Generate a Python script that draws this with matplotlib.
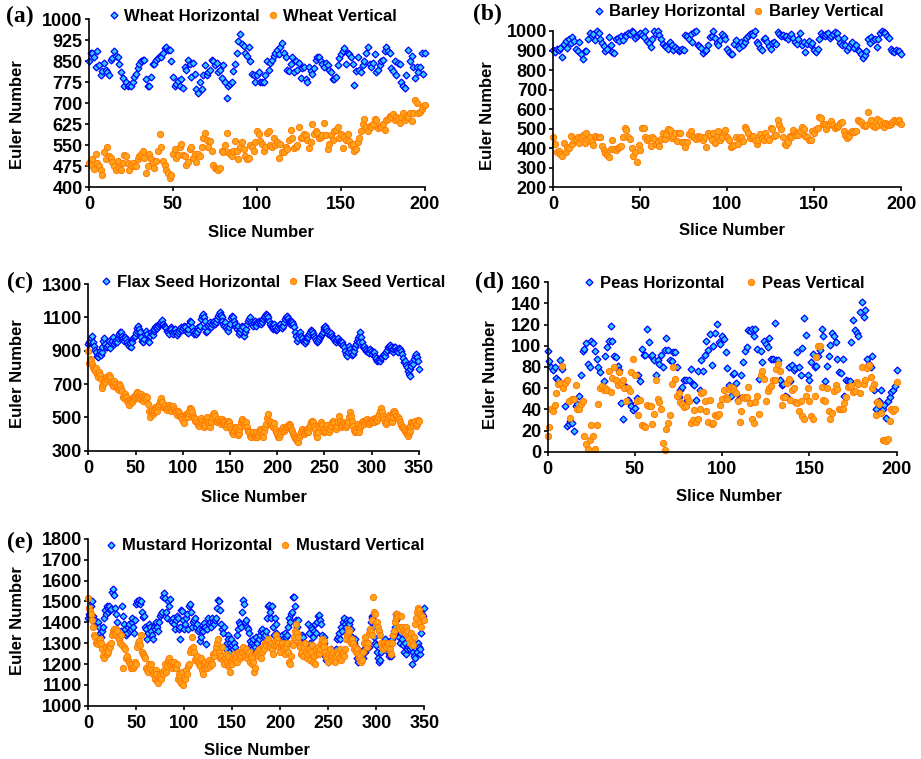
import numpy as np
import matplotlib
matplotlib.use('Agg')
import matplotlib.pyplot as plt

plt.rcParams['font.family'] = ['Liberation Sans', 'DejaVu Sans']
plt.rcParams['font.weight'] = 'bold'

# ---- data (one value per slice) ----
wheat_h = [
    850, 880, 878, 865, 830, 885, 835, 800, 815, 845,
    820, 810, 800, 855, 860, 885, 870, 865, 840, 810,
    790, 760, 775, 760, 765, 760, 775, 795, 805, 825,
    840, 850, 855, 855, 785, 760, 760, 795, 840, 840,
    855, 860, 870, 865, 880, 895, 900, 890, 890, 850,
    795, 760, 770, 780, 760, 785, 755, 830, 820, 855,
    840, 795, 845, 805, 750, 735, 775, 750, 800, 835,
    800, 810, 820, 855, 850, 835, 845, 810, 820, 790,
    835, 775, 720, 760, 770, 775, 815, 840, 880, 920,
    945, 910, 905, 880, 870, 900, 850, 805, 800, 775,
    800, 810, 775, 775, 775, 800, 850, 820, 845, 855,
    870, 880, 890, 875, 900, 915, 880, 865, 820, 815,
    840, 865, 810, 850, 820, 845, 790, 825, 830, 785,
    775, 830, 815, 805, 825, 855, 865, 865, 850, 840,
    830, 845, 835, 820, 810, 785, 785, 795, 835, 860,
    875, 885, 895, 840, 880, 875, 865, 840, 765, 815,
    865, 820, 810, 835, 850, 880, 900, 840, 830, 845,
    875, 810, 820, 835, 850, 855, 885, 900, 885, 880,
    825, 815, 850, 800, 845, 840, 775, 760, 755, 800,
    890, 850, 870, 830, 790, 830, 810, 830, 880, 805,
    880]
wheat_v = [
    485, 480, 500, 465, 520, 485, 475, 460, 445, 525,
    500, 545, 510, 505, 490, 475, 460, 495, 470, 460,
    485, 515, 510, 485, 460, 480, 485, 475, 475, 500,
    510, 520, 530, 505, 450, 475, 520, 500, 490, 470,
    495, 530, 590, 545, 495, 480, 460, 450, 435, 445,
    520, 535, 505, 515, 545, 555, 515, 510, 480, 490,
    535, 545, 505, 520, 490, 520, 510, 545, 575, 595,
    570, 545, 565, 530, 480, 470, 465, 460, 470, 530,
    525, 550, 595, 525, 520, 510, 530, 565, 530, 500,
    545, 560, 535, 510, 500, 505, 550, 545, 530, 560,
    600, 590, 565, 555, 530, 545, 595, 600, 550, 545,
    575, 550, 560, 505, 555, 525, 525, 545, 535, 570,
    605, 575, 540, 545, 550, 615, 575, 580, 590, 585,
    570, 540, 560, 625, 590, 600, 595, 575, 580, 585,
    630, 585, 535, 555, 585, 570, 600, 605, 615, 575,
    590, 540, 580, 570, 590, 565, 550, 555, 530, 535,
    560, 575, 600, 625, 645, 615, 600, 620, 615, 625,
    645, 640, 610, 620, 615, 625, 605, 640, 645, 655,
    650, 660, 640, 650, 645, 630, 650, 665, 640, 655,
    650, 665, 635, 665, 710, 700, 665, 670, 680, 690,
    695]

barley_h = [
    905, 890, 910, 905, 915, 865, 935, 950, 915, 960,
    940, 970, 950, 910, 900, 945, 880, 855, 895, 900,
    960, 990, 975, 985, 955, 1000, 990, 960, 940, 925,
    900, 910, 970, 930, 890, 885, 960, 965, 950, 975,
    955, 980, 975, 990, 985, 1000, 995, 965, 975, 985,
    990, 980, 970, 1000, 950, 940, 920, 960, 1000, 985,
    1000, 980, 960, 935, 925, 920, 910, 945, 930, 905,
    920, 910, 895, 905, 910, 905, 980, 975, 960, 985,
    945, 995, 1000, 930, 925, 915, 885, 900, 905, 930,
    970, 975, 1000, 965, 940, 930, 955, 985, 975, 960,
    910, 890, 880, 880, 935, 955, 925, 915, 945, 930,
    945, 965, 975, 985, 990, 980, 1000, 945, 935, 915,
    905, 960, 965, 945, 925, 910, 940, 945, 935, 995,
    985, 975, 980, 970, 975, 960, 975, 985, 965, 945,
    935, 960, 990, 930, 945, 890, 935, 950, 930, 940,
    905, 890, 910, 960, 990, 980, 975, 985, 990, 965,
    975, 985, 995, 990, 965, 940, 930, 965, 930, 905,
    920, 935, 945, 915, 930, 905, 895, 880, 860, 875,
    895, 960, 940, 970, 955, 960, 920, 960, 990, 1000,
    995, 990, 975, 965, 910, 900, 890, 905, 895, 900,
    880]
barley_v = [
    455, 420, 380, 385, 370, 360, 425, 380, 405, 400,
    465, 420, 440, 445, 455, 425, 460, 470, 425, 480,
    445, 460, 430, 415, 465, 460, 455, 460, 410, 390,
    375, 365, 355, 395, 440, 395, 390, 400, 405, 410,
    455, 505, 495, 455, 445, 400, 360, 380, 330, 415,
    390, 505, 505, 460, 440, 450, 410, 460, 445, 420,
    430, 410, 445, 480, 445, 475, 500, 495, 450, 465,
    480, 435, 480, 480, 430, 430, 405, 430, 475, 490,
    465, 455, 445, 465, 450, 460, 440, 455, 405, 480,
    470, 440, 480, 425, 465, 490, 440, 460, 485, 495,
    460, 440, 405, 410, 415, 455, 420, 450, 460, 435,
    510, 500, 480, 450, 460, 465, 440, 420, 440, 475,
    450, 440, 480, 460, 440, 505, 500, 465, 470, 545,
    520, 500, 460, 420, 415, 430, 465, 455, 495, 470,
    480, 470, 490, 510, 500, 465, 455, 440, 440, 490,
    480, 500, 505, 560, 555, 525, 525, 500, 520, 525,
    540, 520, 505, 510, 515, 530, 535, 490, 470, 450,
    465, 485, 490, 485, 490, 545, 540, 535, 520, 515,
    520, 585, 530, 545, 515, 510, 550, 520, 540, 520,
    510, 530, 525, 520, 525, 535, 545, 540, 535, 545,
    525]

flax_h = [
    940, 955, 960, 975, 990, 950, 930, 905, 890, 870,
    860, 880, 900, 875, 895, 920, 960, 975, 940, 925,
    920, 935, 960, 915, 945, 960, 980, 940, 955, 965,
    950, 975, 990, 1000, 1010, 1015, 990, 975, 960, 985,
    970, 955, 940, 930, 945, 920, 955, 975, 985, 990,
    1005, 1020, 1035, 1050, 1030, 1010, 985, 960, 950, 970,
    1000, 1020, 1000, 960, 950, 990, 1010, 1000, 995, 1020,
    1030, 1040, 1050, 1035, 1050, 1060, 1065, 1075, 1085, 1060,
    1050, 1040, 1035, 1020, 1010, 1000, 1025, 1040, 1030, 1010,
    1000, 1015, 1030, 1010, 995, 1005, 1020, 1030, 1040, 1025,
    1035, 1050, 1040, 1020, 1010, 1005, 1030, 1060, 1080, 1070,
    1040, 1020, 1000, 1010, 1000, 1015, 1040, 1030, 1050, 1090,
    1110, 1120, 1105, 1080, 1040, 1010, 1020, 1050, 1060, 1070,
    1045, 1060, 1075, 1080, 1060, 1070, 1090, 1110, 1120, 1130,
    1115, 1100, 1080, 1060, 1050, 1070, 1045, 1030, 1020, 1040,
    1060, 1095, 1110, 1100, 1080, 1060, 1045, 1030, 1050, 1020,
    1000, 1010, 1030, 1050, 1040, 990, 1010, 1030, 1060, 1080,
    1090, 1100, 1070, 1060, 1050, 1065, 1080, 1060, 1050, 1070,
    1065, 1080, 1070, 1060, 1075, 1090, 1100, 1110, 1120, 1115,
    1100, 1080, 1060, 1050, 1040, 1030, 1045, 1060, 1040, 1025,
    1030, 1040, 1055, 1060, 1045, 1035, 1050, 1070, 1090, 1100,
    1110, 1095, 1080, 1060, 1070, 1080, 1075, 1060, 1040, 1010,
    990, 960, 975, 1000, 1010, 990, 975, 960, 950, 945,
    960, 975, 990, 980, 1000, 1015, 1025, 1020, 1005, 990,
    975, 965, 950, 960, 970, 985, 995, 1000, 1010, 1030,
    1040, 1050, 1035, 1020, 1000, 1010, 995, 1005, 990, 975,
    970, 960, 950, 965, 975, 960, 955, 945, 940, 950,
    935, 920, 900, 880, 870, 890, 930, 910, 890, 875,
    880, 900, 920, 940, 960, 975, 950, 990, 1010, 980,
    950, 920, 930, 910, 900, 905, 895, 885, 910, 900,
    880, 895, 890, 870, 850, 855, 840, 845, 850, 840,
    855, 865, 875, 880, 870, 890, 905, 925, 930, 935,
    920, 905, 890, 910, 925, 920, 905, 900, 895, 915,
    910, 900, 880, 855, 830, 840, 815, 800, 780, 760,
    750, 790, 810, 830, 820, 850, 870, 880, 860, 840,
    790]
flax_v = [
    900, 825, 850, 845, 820, 800, 790, 780, 795, 760,
    740, 770, 755, 730, 690, 675, 700, 720, 710, 740,
    730, 745, 755, 740, 710, 700, 690, 720, 700, 680,
    690, 670, 665, 700, 690, 670, 660, 625, 615, 640,
    620, 600, 590, 575, 600, 605, 590, 620, 610, 625,
    640, 655, 645, 620, 630, 610, 640, 625, 600, 615,
    630, 610, 620, 580, 540, 500, 535, 545, 520, 530,
    545, 560, 550, 540, 570, 580, 600, 615, 590, 565,
    560, 575, 550, 545, 565, 575, 560, 545, 540, 560,
    570, 550, 540, 530, 515, 540, 525, 510, 500, 490,
    480, 465, 500, 520, 515, 500, 525, 540, 555, 550,
    530, 510, 495, 480, 490, 470, 455, 450, 470, 495,
    480, 460, 445, 470, 455, 480, 500, 470, 460, 440,
    470, 500, 520, 525, 510, 480, 470, 490, 480, 470,
    460, 475, 490, 480, 470, 455, 440, 460, 480, 470,
    450, 430, 410, 400, 420, 440, 435, 410, 395, 405,
    430, 450, 470, 490, 480, 460, 450, 470, 440, 420,
    410, 390, 380, 400, 415, 390, 380, 395, 410, 385,
    395, 410, 430, 420, 400, 385, 420, 440, 460, 495,
    520, 480, 460, 470, 455, 440, 450, 465, 430, 410,
    400, 385, 380, 400, 420, 430, 440, 420, 430, 445,
    450, 440, 460, 455, 445, 430, 420, 400, 390, 375,
    370, 360, 355, 380, 395, 410, 430, 420, 400, 415,
    425, 430, 410, 415, 440, 455, 470, 480, 475, 450,
    430, 400, 385, 410, 440, 460, 470, 455, 430, 415,
    410, 420, 440, 455, 430, 415, 430, 450, 470, 480,
    465, 445, 430, 450, 470, 510, 480, 460, 440, 455,
    470, 460, 450, 440, 455, 470, 500, 530, 510, 480,
    450, 425, 410, 420, 440, 460, 430, 415, 440, 455,
    470, 480, 460, 470, 485, 490, 475, 460, 470, 485,
    480, 490, 470, 495, 480, 490, 485, 500, 520, 540,
    555, 530, 510, 490, 470, 460, 475, 495, 515, 500,
    480, 470, 500, 530, 540, 525, 510, 495, 505, 490,
    470, 455, 440, 445, 430, 420, 410, 400, 390, 405,
    420, 450, 470, 465, 455, 475, 480, 450, 460, 485,
    480]

peas_h = [
    95, 86, 80, 77, 80, 70, 68, 87, 78, 64,
    43, 24, 26, 29, 27, 20, 43, 45, 53, 72,
    95, 97, 103, 83, 80, 105, 103, 95, 88, 80,
    75, 61, 67, 90, 99, 105, 119, 105, 90, 89,
    81, 77, 46, 31, 62, 61, 49, 46, 43, 39,
    41, 51, 72, 67, 97, 91, 91, 116, 104, 90,
    91, 87, 72, 87, 83, 91, 80, 96, 107, 96,
    87, 86, 94, 94, 80, 52, 58, 61, 68, 68,
    49, 68, 78, 64, 63, 49, 76, 58, 87, 76,
    91, 105, 96, 111, 82, 100, 112, 121, 104, 102,
    109, 106, 94, 79, 63, 53, 73, 74, 65, 49,
    51, 72, 85, 95, 99, 115, 114, 116, 109, 116,
    97, 69, 95, 85, 105, 102, 99, 107, 88, 88,
    122, 87, 87, 68, 63, 64, 53, 52, 80, 67,
    82, 77, 79, 94, 80, 72, 98, 126, 110, 72,
    68, 85, 92, 80, 81, 90, 96, 116, 109, 67,
    81, 90, 101, 112, 109, 104, 88, 75, 74, 88,
    53, 68, 67, 67, 104, 124, 115, 112, 109, 132,
    141, 127, 134, 88, 83, 80, 90, 58, 40, 47,
    48, 58, 40, 44, 32, 48, 52, 56, 58, 62,
    77]
peas_v = [
    15, 23, 40, 38, 44, 55, 64, 65, 81, 60,
    65, 68, 48, 32, 50, 50, 63, 40, 40, 45,
    48, 15, 7, 3, 11, 25, 15, 3, 25, 45,
    60, 62, 58, 60, 58, 76, 56, 70, 80, 68,
    63, 75, 65, 68, 60, 48, 60, 57, 75, 88,
    72, 48, 35, 49, 25, 24, 23, 44, 43, 43,
    26, 36, 68, 50, 47, 40, 8, 2, 21, 27,
    35, 64, 80, 69, 53, 55, 47, 45, 42, 43,
    52, 48, 27, 30, 39, 28, 31, 40, 55, 56,
    48, 38, 28, 49, 26, 27, 35, 34, 36, 44,
    50, 58, 52, 50, 59, 61, 60, 57, 55, 48,
    28, 38, 52, 51, 52, 61, 46, 31, 27, 47,
    53, 36, 72, 76, 69, 48, 57, 60, 62, 68,
    68, 78, 83, 76, 44, 52, 52, 65, 69, 49,
    58, 60, 47, 46, 38, 48, 34, 31, 53, 60,
    48, 34, 31, 53, 89, 100, 100, 61, 49, 48,
    60, 38, 31, 37, 57, 63, 59, 40, 40, 40,
    46, 52, 61, 62, 62, 56, 57, 66, 64, 55,
    80, 64, 68, 79, 82, 71, 60, 64, 35, 47,
    45, 37, 11, 11, 10, 12, 29, 40, 38, 40,
    66]

mustard_h = [
    1420, 1440, 1505, 1480, 1500, 1430, 1410, 1400, 1405, 1395,
    1400, 1380, 1350, 1330, 1360, 1380, 1420, 1460, 1440, 1480,
    1450, 1470, 1480, 1460, 1465, 1545, 1560, 1530, 1470, 1440,
    1400, 1360, 1330, 1345, 1360, 1480, 1430, 1390, 1370, 1340,
    1350, 1380, 1390, 1360, 1370, 1400, 1420, 1380, 1350, 1410,
    1490, 1500, 1495, 1505, 1490, 1500, 1450, 1425, 1430, 1380,
    1370, 1320, 1350, 1390, 1380, 1360, 1340, 1320, 1380, 1370,
    1390, 1400, 1380, 1360, 1400, 1430, 1440, 1450, 1520, 1540,
    1515, 1450, 1420, 1500, 1480, 1510, 1410, 1400, 1420, 1390,
    1370, 1410, 1430, 1420, 1370, 1320, 1380, 1460, 1455, 1410,
    1370, 1390, 1420, 1440, 1370, 1480, 1490, 1450, 1380, 1400,
    1410, 1420, 1380, 1390, 1360, 1370, 1310, 1330, 1370, 1360,
    1380, 1395, 1380, 1295, 1370, 1420, 1390, 1400, 1380, 1420,
    1400, 1390, 1410, 1420, 1470, 1505, 1500, 1460, 1390, 1370,
    1350, 1380, 1280, 1270, 1300, 1340, 1320, 1260, 1300, 1320,
    1290, 1270, 1300, 1280, 1260, 1340, 1370, 1400, 1390, 1380,
    1450, 1505, 1490, 1400, 1410, 1380, 1370, 1350, 1310, 1290,
    1300, 1270, 1320, 1290, 1280, 1330, 1300, 1270, 1320, 1340,
    1360, 1370, 1350, 1330, 1340, 1360, 1420, 1480, 1485, 1450,
    1420, 1480, 1380, 1340, 1420, 1390, 1350, 1330, 1320, 1300,
    1310, 1330, 1340, 1320, 1310, 1350, 1330, 1340, 1380, 1420,
    1400, 1440, 1450, 1520, 1520, 1480, 1410, 1380, 1410, 1340,
    1320, 1300, 1290, 1340, 1330, 1300, 1260, 1290, 1250, 1390,
    1350, 1300, 1380, 1370, 1330, 1360, 1390, 1350, 1400, 1430,
    1435, 1410, 1390, 1340, 1310, 1300, 1330, 1240, 1220, 1250,
    1210, 1230, 1260, 1270, 1250, 1220, 1240, 1260, 1270, 1320,
    1330, 1350, 1320, 1380, 1360, 1400, 1420, 1390, 1380, 1410,
    1370, 1400, 1390, 1410, 1370, 1330, 1310, 1300, 1320, 1280,
    1230, 1210, 1240, 1250, 1220, 1250, 1230, 1270, 1260, 1290,
    1280, 1300, 1280, 1370, 1400, 1430, 1420, 1380, 1330, 1300,
    1290, 1260, 1230, 1210, 1220, 1260, 1280, 1300, 1310, 1320,
    1290, 1300, 1260, 1240, 1250, 1240, 1320, 1340, 1360, 1380,
    1410, 1440, 1430, 1360, 1330, 1300, 1350, 1320, 1290, 1260,
    1300, 1250, 1270, 1280, 1290, 1270, 1280, 1200, 1260, 1240,
    1230, 1270, 1260, 1300, 1280, 1250, 1270, 1350, 1440, 1430,
    1470]
mustard_v = [
    1515, 1470, 1455, 1440, 1410, 1380, 1340, 1330, 1300, 1310,
    1295, 1310, 1320, 1300, 1270, 1240, 1230, 1260, 1280, 1250,
    1270, 1260, 1290, 1280, 1300, 1340, 1360, 1370, 1350, 1370,
    1360, 1330, 1320, 1300, 1340, 1290, 1180, 1280, 1270, 1230,
    1240, 1220, 1210, 1200, 1180, 1190, 1200, 1180, 1190, 1210,
    1200, 1280, 1300, 1310, 1290, 1340, 1260, 1250, 1240, 1230,
    1180, 1170, 1160, 1200, 1180, 1200, 1170, 1150, 1160, 1130,
    1170, 1150, 1120, 1110, 1140, 1150, 1130, 1160, 1150, 1170,
    1200, 1160, 1190, 1220, 1230, 1200, 1210, 1180, 1200, 1210,
    1190, 1180, 1200, 1130, 1150, 1140, 1120, 1110, 1160, 1100,
    1140, 1130, 1170, 1150, 1190, 1200, 1260, 1270, 1330, 1280,
    1260, 1220, 1230, 1240, 1210, 1200, 1190, 1230, 1170, 1150,
    1180, 1200, 1210, 1190, 1180, 1200, 1220, 1190, 1210, 1200,
    1250, 1240, 1260, 1280, 1300, 1320, 1260, 1230, 1240, 1280,
    1220, 1200, 1230, 1250, 1210, 1190, 1240, 1200, 1160, 1210,
    1200, 1230, 1250, 1220, 1240, 1210, 1260, 1250, 1230, 1240,
    1260, 1280, 1250, 1240, 1270, 1230, 1250, 1260, 1210, 1240,
    1200, 1230, 1210, 1160, 1180, 1250, 1260, 1240, 1270, 1250,
    1230, 1260, 1280, 1270, 1300, 1290, 1310, 1320, 1290, 1280,
    1300, 1270, 1250, 1290, 1310, 1290, 1340, 1320, 1300, 1280,
    1260, 1290, 1300, 1280, 1270, 1250, 1280, 1300, 1260, 1210,
    1200, 1240, 1300, 1290, 1330, 1360, 1390, 1350, 1330, 1300,
    1290, 1280, 1250, 1260, 1240, 1280, 1300, 1260, 1230, 1250,
    1270, 1220, 1260, 1290, 1210, 1240, 1200, 1270, 1250, 1280,
    1250, 1270, 1300, 1320, 1290, 1310, 1280, 1260, 1240, 1230,
    1210, 1250, 1270, 1240, 1220, 1260, 1230, 1210, 1240, 1260,
    1250, 1230, 1270, 1220, 1250, 1260, 1240, 1270, 1320, 1340,
    1370, 1350, 1360, 1310, 1300, 1320, 1300, 1270, 1280, 1260,
    1270, 1250, 1230, 1240, 1210, 1220, 1260, 1300, 1330, 1300,
    1280, 1300, 1350, 1370, 1360, 1340, 1410, 1520, 1450, 1440,
    1390, 1400, 1380, 1360, 1340, 1300, 1280, 1270, 1300, 1290,
    1280, 1300, 1290, 1300, 1270, 1250, 1300, 1340, 1360, 1400,
    1420, 1440, 1440, 1430, 1380, 1370, 1430, 1380, 1360, 1370,
    1350, 1380, 1360, 1330, 1320, 1300, 1350, 1310, 1290, 1330,
    1390, 1420, 1450, 1470, 1460, 1440, 1400, 1380, 1430, 1410,
    1410]

H_FACE, H_EDGE = '#33CCFF', '#0000FF'
V_FACE, V_EDGE = '#FFA31A', '#FF7A00'

# panel: (letter, name, h, v, xmax, yticks, axes rect, legend anchor, colspacing,
#         ylabel coords, xlabel coords, letter pos in px)
panels = [
    ('(a)', 'Wheat', wheat_h, wheat_v, 200, np.arange(400, 1001, 75),
     [0.0966, 0.7532, 0.3648, 0.2217], (0.488, 1.018), 0.45,
     (-0.214, 0.435), (0.512, -0.266), (20, 16)),
    ('(b)', 'Barley', barley_h, barley_v, 200, np.arange(200, 1001, 100),
     [0.6008, 0.7532, 0.3775, 0.2060], (0.533, 1.122), 0.45,
     (-0.19, 0.457), (0.515, -0.274), (487, 14)),
    ('(c)', 'Flax Seed', flax_h, flax_v, 350, np.arange(300, 1301, 200),
     [0.0959, 0.4062, 0.3590, 0.2196], (0.559, 1.012), 0.45,
     (-0.215, 0.46), (0.50, -0.278), (20, 282)),
    ('(d)', 'Peas', peas_h, peas_v, 200, np.arange(0, 161, 20),
     [0.5947, 0.4049, 0.3789, 0.2232], (0.506, 0.995), 1.3,
     (-0.165, 0.453), (0.52, -0.267), (489, 282)),
    ('(e)', 'Mustard', mustard_h, mustard_v, 350, np.arange(1000, 1801, 100),
     [0.0959, 0.0702, 0.3648, 0.2197], (0.527, 0.958), 0.45,
     (-0.212, 0.508), (0.502, -0.266), (20, 542)),
]

W, H = 921, 759
fig = plt.figure(figsize=(W / 100, H / 100), dpi=100)

for (letter, name, hv, vv, xmax, yt, rect, leg_xy, colsp,
     ylc, xlc, let_xy) in panels:
    ax = fig.add_axes(rect)
    ax.plot(np.arange(len(hv)), hv, 'D', ms=3.5, mfc=H_FACE, mec=H_EDGE,
            mew=0.9, clip_on=False, label=name + ' Horizontal')
    ax.plot(np.arange(len(vv)), vv, 'o', ms=4.5, mfc=V_FACE, mec=V_EDGE,
            mew=0.7, clip_on=False, label=name + ' Vertical')
    ax.set_xlim(0, xmax)
    ax.set_ylim(yt[0], yt[-1])
    ax.set_yticks(yt)
    ax.set_xticks(np.arange(0, xmax + 1, 50))
    for s in ['top', 'right']:
        ax.spines[s].set_visible(False)
    for s in ['left', 'bottom']:
        ax.spines[s].set_linewidth(1.2)
    ax.tick_params(axis='both', direction='out', length=3, width=1.2,
                   labelsize=13)
    ax.tick_params(axis='y', pad=1.5)
    ax.tick_params(axis='x', pad=3.5)
    for lab in ax.get_xticklabels() + ax.get_yticklabels():
        lab.set_fontweight('bold')

    ax.set_ylabel('Euler Number', fontsize=12, fontweight='bold')
    ax.set_xlabel('Slice Number', fontsize=12, fontweight='bold')
    ax.yaxis.set_label_coords(*ylc)
    ax.xaxis.set_label_coords(*xlc)
    ax.yaxis.label.set_va('center')
    ax.xaxis.label.set_va('center')

    ax.legend(loc='center', bbox_to_anchor=leg_xy, ncol=2, frameon=False,
              handlelength=0.6, handletextpad=0.35,
              columnspacing=colsp, borderpad=0, numpoints=1,
              prop={'weight': 'bold', 'size': 12})

    fig.text(let_xy[0] / W, 1 - let_xy[1] / H, letter, ha='center',
             va='center', fontsize=17, fontweight='bold',
             family=['Liberation Serif', 'DejaVu Serif'])

fig.savefig('out.png', dpi=100)
